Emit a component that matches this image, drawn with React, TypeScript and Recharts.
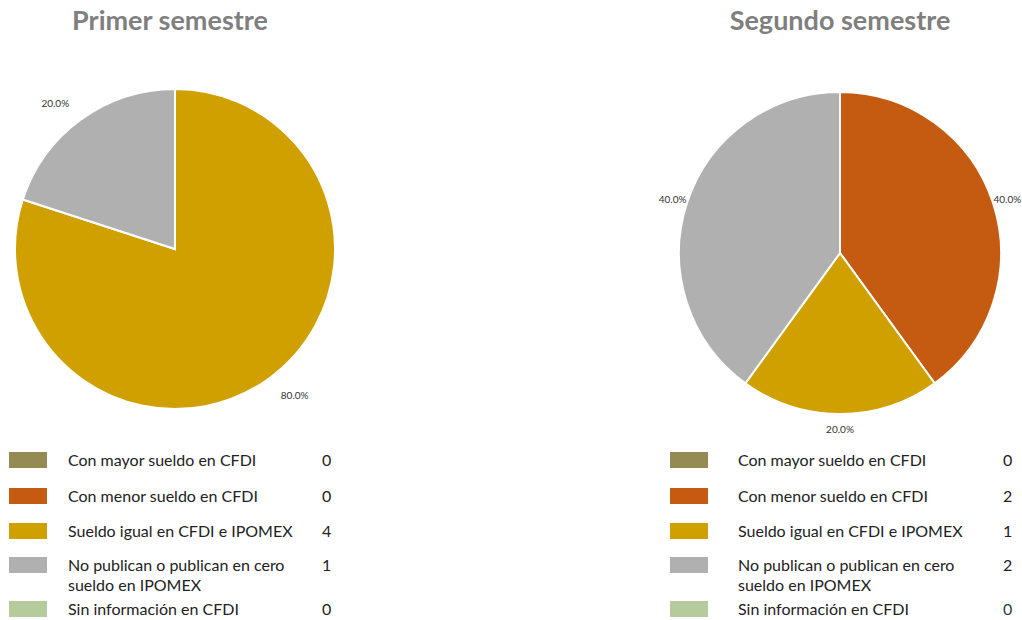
import { PieChart, Pie, Cell } from 'recharts'

const categories = [
  'Con mayor sueldo en CFDI',
  'Con menor sueldo en CFDI',
  'Sueldo igual en CFDI e IPOMEX',
  'No publican o publican en cero sueldo en IPOMEX',
  'Sin información en CFDI',
]
const colors = ['#948a54', '#c55a11', '#d0a000', '#b0b0b0', '#b5cb9b']
const primerValues = [0, 0, 4, 1, 0]
const segundoValues = [0, 2, 1, 2, 0]

const FONT = 'Lato, "Open Sans", sans-serif'
const RADIAN = Math.PI / 180

function makeLabel(offset: number, mode: 'side' | 'middle') {
  return (props: any) => {
    const { cx, cy, midAngle, outerRadius, percent, value } = props
    if (!value) return null
    const r = outerRadius + offset
    const x = cx + r * Math.cos(-midAngle * RADIAN)
    const y = cy + r * Math.sin(-midAngle * RADIAN)
    const anchor = mode === 'middle' ? 'middle' : (x > cx ? 'start' : 'end')
    return (
      <text x={x} y={y} textAnchor={anchor} dominantBaseline="central"
        fontSize={10} fill="#333" stroke="none" style={{ fill: '#333' }} fontFamily={FONT}>
        {(percent * 100).toFixed(1)}%
      </text>
    )
  }
}

interface SemesterProps {
  title: string
  titleCenter: number
  values: number[]
  left: number
  width: number
  cx: number
  cy: number
  radius: number
  labelOffset: number
  labelMode: 'side' | 'middle'
  swatchLeft: number
  textLeft: number
  valueLeft: number
  lastValueColor?: string
}

const rowHeights = [36, 35, 34, 44, 35]

function Semester(p: SemesterProps) {
  const data = categories
    .map((name, i) => ({ name, value: p.values[i], color: colors[i] }))
    .filter(d => d.value > 0)
  return (
    <div style={{ position: 'absolute', left: p.left, top: 0, width: p.width, height: 620 }}>
      <div style={{
        position: 'absolute', left: p.titleCenter - 200, width: 400, top: 3, textAlign: 'center',
        fontFamily: FONT, fontWeight: 700, fontSize: 27, color: '#7f7f7f', lineHeight: '34px'
      }}>{p.title}</div>
      <div style={{ position: 'absolute', left: 0, top: 0 }}>
        <PieChart width={p.width} height={440} margin={{ top: 0, right: 0, bottom: 0, left: 0 }}>
          <Pie data={data} dataKey="value" nameKey="name" cx={p.cx} cy={p.cy}
            outerRadius={p.radius} startAngle={90} endAngle={-270}
            stroke="#fff" strokeWidth={2} labelLine={false}
            label={makeLabel(p.labelOffset, p.labelMode)} isAnimationActive={false}>
            {data.map(d => <Cell key={d.name} fill={d.color} />)}
          </Pie>
        </PieChart>
      </div>
      <div style={{ position: 'absolute', left: 0, top: 450, width: p.width, fontFamily: FONT, fontSize: 16, color: '#222' }}>
        {categories.map((name, i) => (
          <div key={name} style={{ position: 'relative', height: rowHeights[i], lineHeight: '20px' }}>
            <div style={{ position: 'absolute', left: p.swatchLeft, top: 2, width: 38, height: 16, background: colors[i] }} />
            <div style={{ position: 'absolute', left: p.textLeft, top: 0, width: p.valueLeft - p.textLeft - 20 }}>{name}</div>
            <div style={{ position: 'absolute', left: p.valueLeft, top: 0, color: i === 4 && p.lastValueColor ? p.lastValueColor : '#222' }}>
              {p.values[i]}
            </div>
          </div>
        ))}
      </div>
    </div>
  )
}

export default function App() {
  return (
    <div style={{ position: 'absolute', left: 0, top: 0, width: 1022, height: 620, background: '#fff', overflow: 'hidden' }}>
      <Semester title="Primer semestre" titleCenter={170} values={primerValues} left={0} width={345}
        cx={175} cy={249} radius={160} labelOffset={20} labelMode="side"
        swatchLeft={9} textLeft={68} valueLeft={322} />
      <Semester title="Segundo semestre" titleCenter={220} values={segundoValues} left={620} width={402}
        cx={220} cy={253} radius={161} labelOffset={15} labelMode="middle"
        swatchLeft={50} textLeft={118} valueLeft={383} lastValueColor="#1f4040" />
    </div>
  )
}
